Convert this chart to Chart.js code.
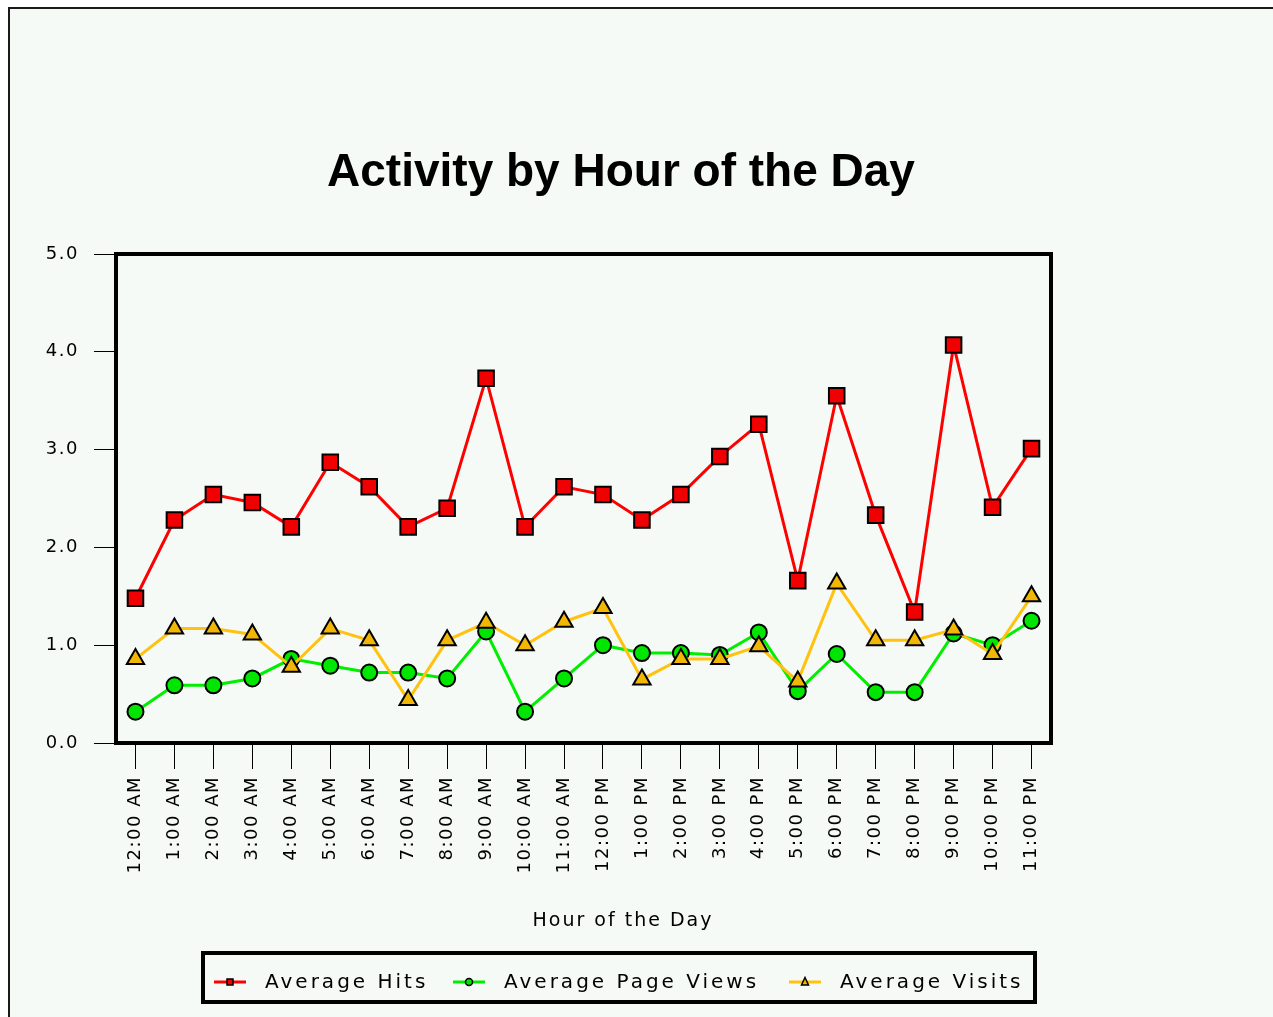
<!DOCTYPE html>
<html>
<head>
<meta charset="utf-8">
<script src="https://cdn.jsdelivr.net/npm/chart.js@4"></script>
<style>
  html, body { margin: 0; padding: 0; background: #ffffff; }
  #wrap { width: 1273px; height: 1017px; position: relative; }
</style>
</head>
<body>
<div id="wrap"><canvas id="activity" width="1273" height="1017"></canvas></div>
<script>
// hour labels along the x axis
const hours = ['12:00 AM', '1:00 AM', '2:00 AM', '3:00 AM', '4:00 AM', '5:00 AM', '6:00 AM', '7:00 AM',
    '8:00 AM', '9:00 AM', '10:00 AM', '11:00 AM', '12:00 PM', '1:00 PM', '2:00 PM', '3:00 PM',
    '4:00 PM', '5:00 PM', '6:00 PM', '7:00 PM', '8:00 PM', '9:00 PM', '10:00 PM', '11:00 PM'];
// values
const avgHits = [1.48, 2.28, 2.54, 2.46, 2.21, 2.87, 2.62, 2.21, 2.40, 3.73, 2.21, 2.62,
    2.54, 2.28, 2.54, 2.93, 3.26, 1.66, 3.55, 2.33, 1.34, 4.07, 2.41, 3.01];
const avgPageViews = [0.32, 0.59, 0.59, 0.66, 0.86, 0.79, 0.72, 0.72, 0.66, 1.14, 0.32, 0.66,
    1.00, 0.92, 0.92, 0.90, 1.13, 0.53, 0.91, 0.52, 0.52, 1.12, 1.00, 1.25];
const avgVisits = [0.86, 1.17, 1.17, 1.11, 0.78, 1.17, 1.05, 0.44, 1.05, 1.23, 1.00, 1.24,
    1.38, 0.65, 0.86, 0.86, 0.99, 0.63, 1.63, 1.05, 1.05, 1.16, 0.91, 1.50];
const yTicks = [0, 1, 2, 3, 4, 5];

const chartTitle = 'Activity by Hour of the Day';
const xTitle = 'Hour of the Day';
const textFont = '"DejaVu Sans", sans-serif';
const tickSpacing = '1.5px';

// small legend symbol: a line with a tiny marker on it
function legendIcon(lineColor, fill, shape) {
    const c = document.createElement('canvas');
    c.width = 32; c.height = 12;
    const g = c.getContext('2d');
    g.strokeStyle = lineColor; g.lineWidth = 3;
    g.beginPath(); g.moveTo(0, 6); g.lineTo(32, 6); g.stroke();
    g.fillStyle = fill; g.strokeStyle = '#000'; g.lineWidth = 1.5;
    g.beginPath();
    if (shape === 'rect') g.rect(13, 3, 6, 6);
    else if (shape === 'circle') g.arc(16, 6, 3.5, 0, Math.PI * 2);
    else { g.moveTo(16, 1.5); g.lineTo(19.5, 9); g.lineTo(12.5, 9); g.closePath(); }
    g.fill(); g.stroke();
    return c;
}

// letter spacing, background frame, titles, plot frame and boxed legend
const decorations = {
    id: 'decorations',
    beforeUpdate(chart) { chart.ctx.letterSpacing = tickSpacing; },
    beforeLayout(chart) { chart.ctx.letterSpacing = tickSpacing; },
    beforeDraw(chart) {
        const ctx = chart.ctx;
        ctx.letterSpacing = tickSpacing;
        ctx.save();
        ctx.fillStyle = '#ffffff';
        ctx.fillRect(0, 0, chart.width, chart.height);
        ctx.fillStyle = '#f6faf6';
        ctx.fillRect(9, 8, chart.width, chart.height);
        ctx.strokeStyle = '#1a1a1a';
        ctx.lineWidth = 2;
        ctx.beginPath();
        ctx.moveTo(9, chart.height); ctx.lineTo(9, 8); ctx.lineTo(chart.width, 8);
        ctx.stroke();
        ctx.restore();
    },
    afterDraw(chart) {
        const ctx = chart.ctx;
        const a = chart.chartArea;
        ctx.save();
        // plot frame
        ctx.strokeStyle = '#000';
        ctx.lineWidth = 4;
        ctx.strokeRect(a.left, a.top, a.right - a.left, a.bottom - a.top);
        // chart title
        ctx.letterSpacing = '0px';
        ctx.fillStyle = '#000';
        ctx.font = 'bold 46px "Liberation Sans", Arial, sans-serif';
        ctx.textAlign = 'center';
        ctx.textBaseline = 'alphabetic';
        ctx.fillText(chartTitle, 621, 186);
        // x axis title
        ctx.letterSpacing = '2px';
        ctx.font = '19px ' + textFont;
        ctx.textBaseline = 'middle';
        ctx.fillText(xTitle, 623, 921);
        // legend
        ctx.lineWidth = 4;
        ctx.strokeRect(203, 953, 832, 49);
        ctx.letterSpacing = '3px';
        ctx.font = '20px ' + textFont;
        ctx.textAlign = 'left';
        const starts = [214, 453, 789];
        chart.data.datasets.forEach((ds, i) => {
            ctx.drawImage(ds.legendIcon, starts[i], 976);
            ctx.fillText(ds.label, starts[i] + 51, 983);
        });
        ctx.restore();
    }
};

const mychart = new Chart(document.querySelector('#activity'), {
    type: 'line',
    data: {
        labels: hours,
        datasets: [
            {
                label: 'Average Hits',
                data: avgHits,
                order: 2,
                borderColor: '#ff0000',
                borderWidth: 3,
                pointStyle: 'rect',
                pointRadius: 11,
                pointBackgroundColor: '#f00000',
                pointBorderColor: '#000',
                pointBorderWidth: 2,
                legendIcon: legendIcon('#ff0000', '#f00000', 'rect')
            },
            {
                label: 'Average Page Views',
                data: avgPageViews,
                order: 1,
                borderColor: '#00ee00',
                borderWidth: 3,
                pointStyle: 'circle',
                pointRadius: 8,
                pointBackgroundColor: '#00e600',
                pointBorderColor: '#000',
                pointBorderWidth: 2,
                legendIcon: legendIcon('#00ee00', '#00e600', 'circle')
            },
            {
                label: 'Average Visits',
                data: avgVisits,
                order: 0,
                borderColor: '#ffc20e',
                borderWidth: 3,
                pointStyle: 'triangle',
                pointRadius: 10,
                pointBackgroundColor: '#f2b705',
                pointBorderColor: '#000',
                pointBorderWidth: 2,
                legendIcon: legendIcon('#ffc20e', '#f2b705', 'triangle')
            }
        ]
    },
    options: {
        responsive: false,
        animation: false,
        devicePixelRatio: 1,
        layout: { padding: { left: 0, top: 254, right: 222, bottom: 77 } },
        plugins: {
            legend: { display: false },
            title: { display: false },
            tooltip: { enabled: false }
        },
        elements: { line: { tension: 0 } },
        scales: {
            x: {
                type: 'category',
                offset: true,
                afterFit: (s) => { s.height = 197; },
                grid: {
                    offset: false,
                    drawOnChartArea: false,
                    tickLength: 26,
                    tickColor: '#000',
                    tickWidth: 1
                },
                border: { display: false },
                ticks: {
                    minRotation: 90,
                    maxRotation: 90,
                    autoSkip: false,
                    padding: 7,
                    color: '#000',
                    font: { family: textFont, size: 18 }
                }
            },
            y: {
                min: 0,
                max: 5,
                afterFit: (s) => { s.width = 116; },
                afterBuildTicks: (s) => { s.ticks = yTicks.map((v) => ({ value: v })); },
                grid: {
                    drawOnChartArea: false,
                    tickLength: 22,
                    tickColor: '#000',
                    tickWidth: 1
                },
                border: { display: false },
                ticks: {
                    padding: 15,
                    color: '#000',
                    font: { family: textFont, size: 18 },
                    callback: (v) => Number(v).toFixed(1)
                }
            }
        }
    },
    plugins: [decorations]
});
</script>
</body>
</html>
